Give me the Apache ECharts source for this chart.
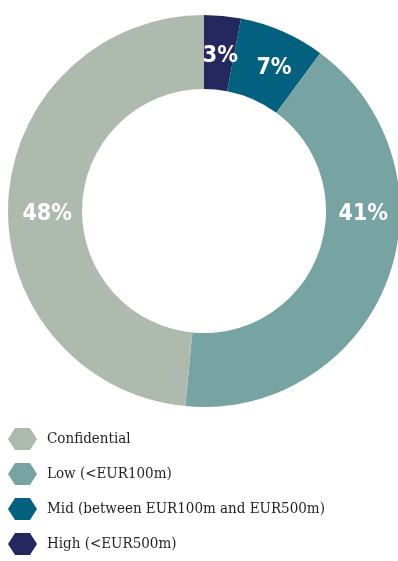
<!DOCTYPE html>
<html>
<head>
<meta charset="utf-8">
<script src="https://cdn.jsdelivr.net/npm/echarts@6/dist/echarts.min.js"></script>
<style>
  html, body { margin: 0; padding: 0; background: #ffffff; }
  #chart { width: 398px; height: 561px; }
</style>
</head>
<body>
<div id="chart"></div>
<script>
// Deal value bands, listed clockwise from 12 o'clock
const categories = ['High (<EUR500m)', 'Mid (between EUR100m and EUR500m)', 'Low (<EUR100m)', 'Confidential'];
const shares = [3, 7, 41, 48];
const colors = ['#24285e', '#03607f', '#78a3a3', '#aebaae'];
// Legend reads from the largest band down
const legendOrder = ['Confidential', 'Low (<EUR100m)', 'Mid (between EUR100m and EUR500m)', 'High (<EUR500m)'];

// Nudges that move each percentage label to its spot in the ring
const labelNudges = [[1, 6], [5, 5], [8, -55], [5, 11]];

// Flat-topped hexagon, a little wider than tall
const hexagon = 'path://M0,50 L32,0 L100,0 L132,50 L100,100 L32,100 Z';

const chart = echarts.init(document.getElementById('chart'), null, { renderer: 'canvas' });

chart.setOption({
  animation: false,
  backgroundColor: '#ffffff',
  legend: {
    orient: 'vertical',
    left: 8,
    top: 428,
    height: 140,
    padding: 0,
    itemWidth: 29,
    itemHeight: 22,
    itemGap: 13,
    icon: hexagon,
    selectedMode: false,
    data: legendOrder,
    textStyle: {
      fontFamily: 'DejaVu Serif Condensed',
      fontSize: 15,
      color: '#231f20',
      padding: [0, 0, 0, 5]
    }
  },
  series: [{
    type: 'pie',
    center: [204, 211],
    radius: [122, 196],
    startAngle: 90,
    clockwise: true,
    avoidLabelOverlap: false,
    labelLine: { show: false },
    itemStyle: { borderWidth: 0 },
    emphasis: { disabled: true },
    data: categories.map((name, i) => ({
      name: name,
      value: shares[i],
      itemStyle: { color: colors[i] },
      label: {
        show: true,
        position: 'inside',
        formatter: shares[i] + '%',
        offset: labelNudges[i],
        color: '#ffffff',
        fontFamily: 'DejaVu Sans Condensed',
        fontWeight: 'bold',
        fontSize: 23
      }
    }))
  }]
});
</script>
</body>
</html>
